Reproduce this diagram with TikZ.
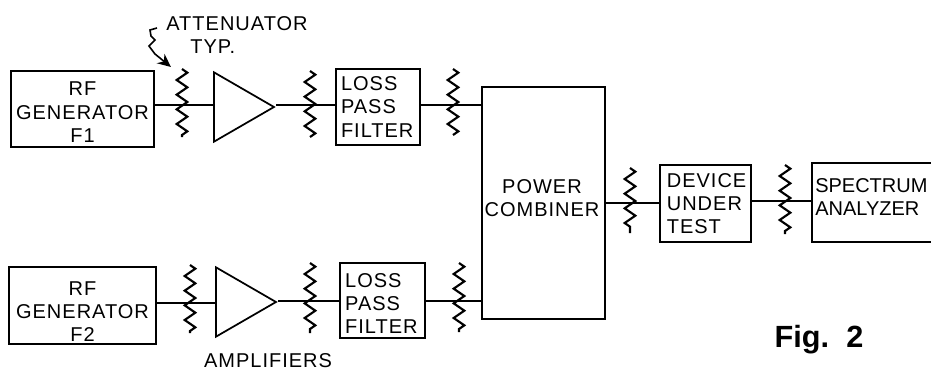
\documentclass[tikz,border=0pt]{standalone}
\usepackage{fontspec}
\setmainfont{Liberation Sans}
\newfontfamily\lblfont[LetterSpace=5]{Liberation Sans}
\usetikzlibrary{shapes.geometric,decorations.pathmorphing,arrows.meta}
\newcommand{\dropline}[1]{\rule{0pt}{#1}}
\tikzset{
  block/.style={draw,line width=1.3pt,inner sep=0pt,font=\lblfont\fontsize{15}{17.5}\selectfont},
  lbl/.style={inner sep=0pt,font=\lblfont\fontsize{15}{17.5}\selectfont},
  amp/.style={draw,line width=1.3pt,isosceles triangle,isosceles triangle stretches,inner sep=0pt,minimum width=52pt,minimum height=45pt},
  wire/.style={line width=1.2pt},
  atten/.style={line width=1.6pt,decorate,decoration={zigzag,amplitude=4pt,segment length=11pt}}
}
\begin{document}
\begin{tikzpicture}[x=0.75pt,y=-0.75pt]
    \clip (0,0) rectangle (931,372);
    % blocks
    \node[block,minimum width=107pt,minimum height=57pt,align=center] (gen1) at (82.5,109) {\dropline{15pt}RF\\GENERATOR\\F1};
    \node[block,minimum width=110pt,minimum height=57.5pt,align=center] (gen2) at (82.5,305.5) {\dropline{19.5pt}RF\\GENERATOR\\F2};
    \node[block,minimum width=63pt,minimum height=57pt,align=left,text width=55.5pt] (lpf1) at (378,107) {LOSS\\PASS\\FILTER};
    \node[block,minimum width=64pt,minimum height=56pt,align=left,text width=56pt] (lpf2) at (382.5,300.5) {\dropline{15pt}LOSS\\PASS\\FILTER};
    \node[block,minimum width=92pt,minimum height=174pt] (comb) at (543.5,203) {};
    \node[block,minimum width=68pt,minimum height=57.5pt,align=left,text width=58pt] (dut) at (705.5,203.5) {DEVICE\\UNDER\\TEST};
    \node[block,minimum width=105pt,minimum height=59pt] (spec) at (882,202.5) {};
    % text that sits high in its block
    \node[lbl,align=center] (combtext) at (542,198) {POWER\\COMBINER};
    \node[lbl,align=left,anchor=west,text width=86pt,font=\fontsize{15}{17.5}\selectfont] (spectext) at (815,197) {SPECTRUM\\ANALYZER};
    % amplifiers
    \node[amp] (amp1) at (234,107) {};
    \node[amp] (amp2) at (236,302) {};
    % attenuators, one centre and two ends each
    \foreach \n/\x/\y/\t/\b in {a/182/105/69/137,b/310/105/71/137,c/453/105/69/135,d/190/303/265/333,e/310/301/263/333,f/459/301/263/332,g/630/203/168/233,h/785/201/165/234}{
        \coordinate (\n) at (\x,\y);
        \coordinate (\n t) at (\x,\t);
        \coordinate (\n b) at (\x,\b);
        \draw[atten] (\n t) -- (\n b);
    }
    % wires
    \draw[wire] (a -| gen1.east) -- (a) -- (a -| amp1.west);
    \draw[wire] (b -| amp1.east) -- (b) -- (b -| lpf1.west);
    \draw[wire] (c -| lpf1.east) -- (c) -- (c -| comb.west);
    \draw[wire] (d -| gen2.east) -- (d) -- (d -| amp2.west);
    \draw[wire] (e -| amp2.east) -- (e) -- (e -| lpf2.west);
    \draw[wire] (f -| lpf2.east) -- (f) -- (f -| comb.west);
    \draw[wire] (g -| comb.east) -- (g) -- (g -| dut.west);
    \draw[wire] (h -| dut.east) -- (h) -- (h -| spec.west);
    % labels
    \node[lbl,align=left] (attlabel) at (237,35) {ATTENUATOR\\\hspace*{18pt}TYP.};
    \node[lbl] (amplabel) at (268,361) {AMPLIFIERS};
    \node[inner sep=0pt,font=\bfseries\fontsize{23}{26}\selectfont] (figlabel) at (819,340) {Fig.\ \ 2};
    % pointer
    \coordinate (ptrstart) at (157,28);
    \coordinate (ptrend) at (171,67);
    \draw[line width=1.2pt,-{Stealth[length=10pt,width=9pt]}] (ptrstart) -- (150,30) -- (151,36) -- (155,40) -- (149,46) -- (155,54) -- (ptrend);
\end{tikzpicture}
\end{document}
